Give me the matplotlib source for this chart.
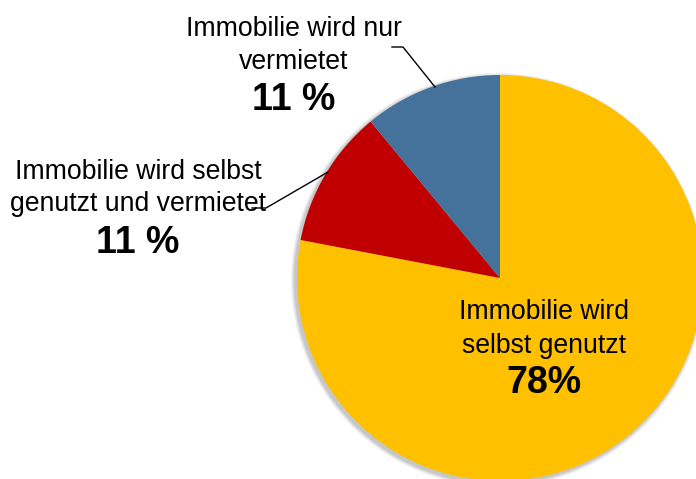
import matplotlib.pyplot as plt
from matplotlib.patches import Circle

plt.rcParams['font.family'] = ['Liberation Sans', 'DejaVu Sans']

# --- Data ---
categories = ['Immobilie wird selbst genutzt',
              'Immobilie wird selbst genutzt und vermietet',
              'Immobilie wird nur vermietet']
shares = [78, 11, 11]
pct_labels = ['78%', '11 %', '11 %']
label_lines = [['Immobilie wird', 'selbst genutzt'],
               ['Immobilie wird selbst', 'genutzt und vermietet'],
               ['Immobilie wird nur', 'vermietet']]
colors = ['#FFC000', '#C00000', '#44729A']

# --- Layout (pixel-like units, y up) ---
W, H = 696, 479
cx, cy, r = 500, H - 278, 203

# label positions: (center x, baseline of line 1, line 2, percent)
label_pos = [(544, 319, 353, 393),
             (138, 179, 211, 253),
             (294, 36, 69, 110)]

fig = plt.figure(figsize=(W / 100, H / 100), dpi=100)
ax = fig.add_axes([0, 0, 1, 1])

# soft shadow behind the pie
for i, a in enumerate([0.05, 0.05, 0.06, 0.07]):
    ax.add_patch(Circle((cx - 2, cy - 2), r + 4 - i, color='#000000',
                        alpha=a, lw=0, zorder=0))

ax.pie(shares, colors=colors, startangle=90, counterclock=False,
       center=(cx, cy), radius=r, wedgeprops={'linewidth': 0})

for (x, y1, y2, yp), lines, pct in zip(label_pos, label_lines, pct_labels):
    ax.text(x, H - y1, lines[0], ha='center', va='baseline', fontsize=19.2)
    ax.text(x, H - y2, lines[1], ha='center', va='baseline', fontsize=19.2)
    ax.text(x, H - yp, pct, ha='center', va='baseline', fontsize=27,
            fontweight='bold')

# leader lines
ax.plot([392, 403, 435], [H - 47, H - 47, H - 87], color='black', lw=1.0)
ax.plot([252, 266, 328], [H - 208, H - 208, H - 172], color='black', lw=1.0)

ax.set_xlim(0, W)
ax.set_ylim(0, H)
ax.set_aspect('equal')
ax.axis('off')

plt.savefig('out.png', dpi=100)
